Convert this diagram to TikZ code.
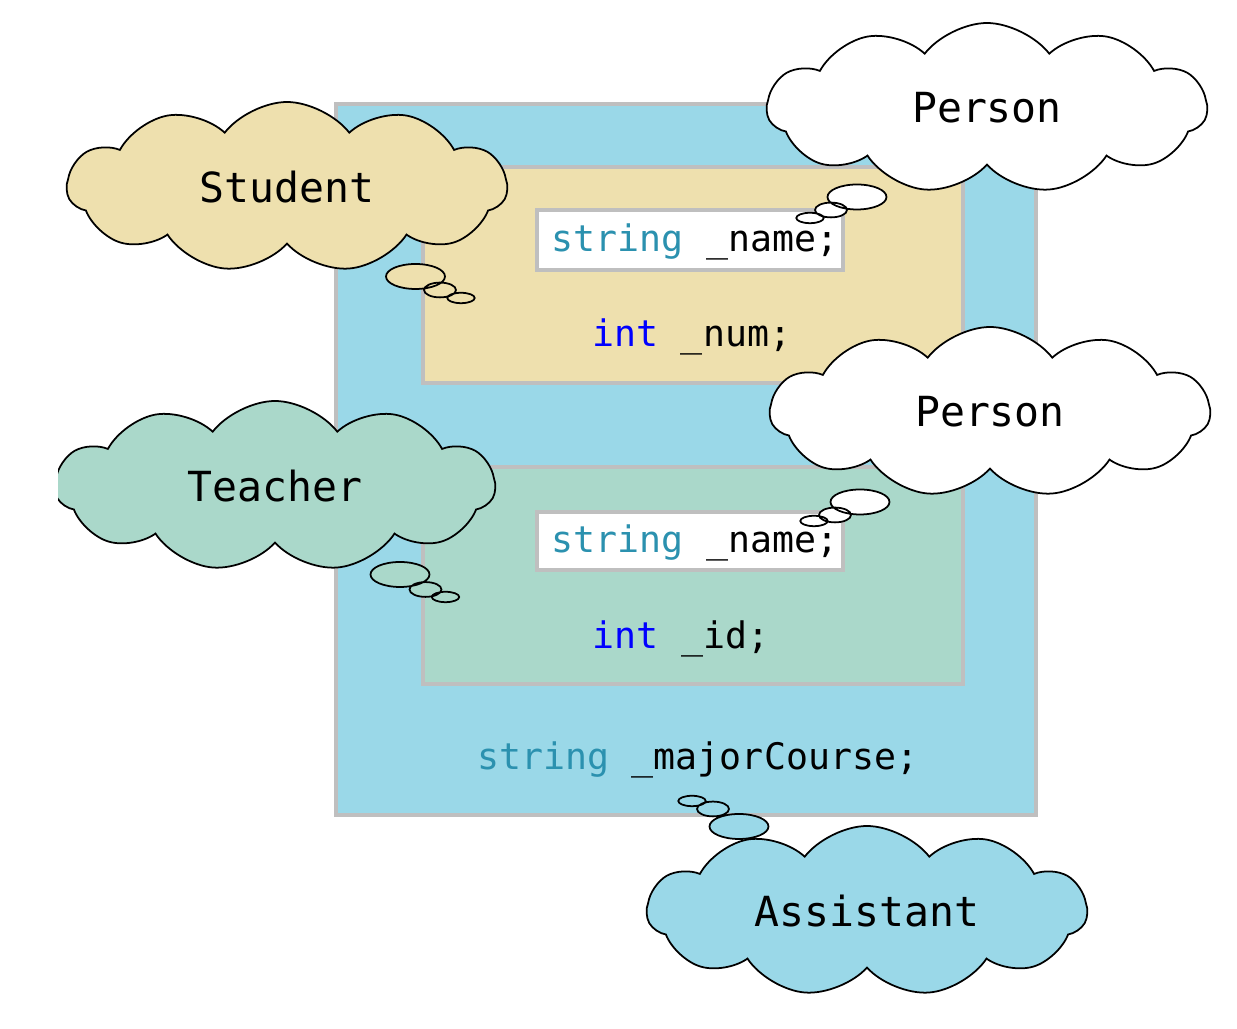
\documentclass[tikz,border=0pt]{standalone}
\usepackage{fontspec}
\setmonofont{DejaVu Sans Mono}
\usetikzlibrary{shapes.symbols}
\definecolor{outerblue}{HTML}{9AD8E8}
\definecolor{studtan}{HTML}{EEE0AE}
\definecolor{teachgreen}{HTML}{AAD8CA}
\definecolor{edgegray}{HTML}{BFBFBF}
\definecolor{typeteal}{HTML}{2B91AF}
\definecolor{kwblue}{HTML}{0000FF}
\newcommand{\tyname}[1]{\textcolor{typeteal}{#1}}
\newcommand{\kwname}[1]{\textcolor{kwblue}{#1}}

\begin{document}
\begin{tikzpicture}[
      box/.style={rectangle,draw=edgegray,line width=0.9pt,inner sep=0pt},
      code/.style={font=\ttfamily\fontsize{10.4}{12}\selectfont,inner sep=0pt,anchor=base},
      think/.style={cloud,draw,line width=0.5pt,cloud puffs=11,cloud puff arc=105,
         cloud ignores aspect,minimum width=4.4cm,minimum height=1.7cm,inner sep=0pt,
         font=\ttfamily\fontsize{11.8}{14}\selectfont},
      bub/.style={draw,line width=0.5pt},
      big/.style={x radius=.295,y radius=.125},
      mid/.style={x radius=.16,y radius=.074},
      small/.style={x radius=.137,y radius=.052}]
    \useasboundingbox (0,0) rectangle (12.37,-10.29);
    % class boxes
    \node[box,fill=outerblue,minimum width=7cm,minimum height=7.11cm] (asst) at (6.86,-4.595) {};
    \node[box,fill=studtan,minimum width=5.4cm,minimum height=2.16cm] (stud) at (6.93,-2.75) {};
    \node[box,fill=teachgreen,minimum width=5.4cm,minimum height=2.17cm] (teach) at (6.93,-5.755) {};
    \node[box,fill=white,minimum width=3.06cm,minimum height=0.6cm] (name1) at (6.9,-2.4) {};
    \node[box,fill=white,minimum width=3.06cm,minimum height=0.58cm] (name2) at (6.9,-5.41) {};
    % fields
    \node[code] (f1) at (6.95,-2.52) {\tyname{string} \_name;};
    \node[code] (f2) at (6.92,-3.47) {\kwname{int} \_num;};
    \node[code] (f3) at (6.95,-5.53) {\tyname{string} \_name;};
    \node[code] (f4) at (6.81,-6.49) {\kwname{int} \_id;};
    \node[code] (f5) at (6.98,-7.70) {\tyname{string} \_majorCourse;};
    % thought clouds
    \node[think,fill=studtan] (student) at (2.87,-1.87) {Student};
    \draw[bub,fill=studtan] (4.155,-2.765) ellipse[big] (4.40,-2.90) ellipse[mid] (4.61,-2.98) ellipse[small];
    \node[think,fill=white] (person1) at (9.87,-1.08) {Person};
    \draw[bub,fill=white] (8.57,-1.97) ellipse[big] (8.31,-2.10) ellipse[mid] (8.10,-2.18) ellipse[small];
    \node[think,fill=white] (person2) at (9.90,-4.12) {Person};
    \draw[bub,fill=white] (8.60,-5.02) ellipse[big] (8.35,-5.15) ellipse[mid] (8.14,-5.21) ellipse[small];
    \begin{scope}
      \clip (0.58,0) rectangle (12.37,-10.29);
      \node[think,fill=teachgreen] (teacher) at (2.75,-4.86) {Teacher};
    \end{scope}
    \draw[bub,fill=teachgreen] (4.00,-5.745) ellipse[big] (4.255,-5.895) ellipse[mid] (4.455,-5.97) ellipse[small];
    \node[think,fill=outerblue] (assistant) at (8.67,-9.11) {Assistant};
    \draw[bub,fill=outerblue] (7.39,-8.265) ellipse[big] (7.13,-8.09) ellipse[mid] (6.92,-8.01) ellipse[small];
  \end{tikzpicture}
\end{document}
